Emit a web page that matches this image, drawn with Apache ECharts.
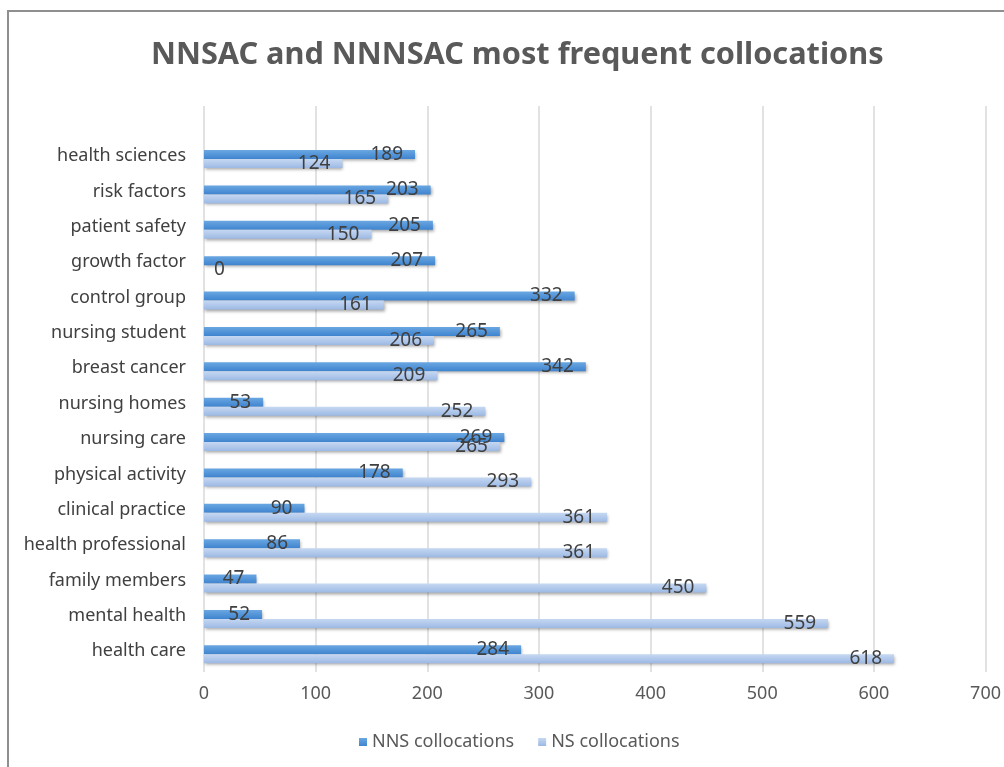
<!DOCTYPE html>
<html>
<head>
<meta charset="utf-8">
<script src="https://cdn.jsdelivr.net/npm/echarts@6/dist/echarts.min.js"></script>
<style>
html,body{margin:0;padding:0;background:#fff;}
#frame{position:absolute;left:7px;top:10px;width:1100px;height:900px;border-top:2px solid #8f8f8f;border-left:2px solid #8f8f8f;}
#chart{position:absolute;left:0;top:0;width:1004px;height:767px;}
</style>
</head>
<body>
<div id="frame"></div>
<div id="chart"></div>
<script>
// bottom-to-top order (ECharts category axis starts at the bottom)
const categories = ['health care','mental health','family members','health professional','clinical practice','physical activity','nursing care','nursing homes','breast cancer','nursing student','control group','growth factor','patient safety','risk factors','health sciences'];
const nnsValues = [284,52,47,86,90,178,269,53,342,265,332,207,205,203,189];
const nsValues  = [618,559,450,361,361,293,265,252,209,206,161,0,150,165,124];
const seriesNames = ['NNS collocations','NS collocations'];
const xTicks = [0,100,200,300,400,500,600,700];

const chart = echarts.init(document.getElementById('chart'), null, {renderer:'canvas'});
const font = '"Noto Sans", "Open Sans", sans-serif';
const labelBase = {show:true, position:'insideRight', distance:12, color:'#404040', fontSize:19, fontFamily:font};
function toData(arr){
  return arr.map(v => v === 0 ? {value:v, label:{position:'right', distance:10}} : v);
}
const shadow = {shadowColor:'rgba(0,0,0,0.35)', shadowBlur:3, shadowOffsetX:1, shadowOffsetY:2};
chart.setOption({
  animation:false,
  title:{text:'NNSAC and NNNSAC most frequent collocations', left:146, top:35,
    textStyle:{fontFamily:font, fontSize:30.7, fontWeight:'bold', color:'#595959'}},
  legend:{bottom:11, left:354, itemWidth:8, itemHeight:8, itemGap:24, icon:'rect',
    textStyle:{fontFamily:font, fontSize:18, color:'#595959'}},
  grid:{left:204, right:16, top:106, bottom:95, containLabel:false},
  xAxis:{type:'value', min:xTicks[0], max:xTicks[xTicks.length-1], interval:100,
    axisLine:{show:false}, axisTick:{show:false},
    splitLine:{lineStyle:{color:'#d9d9d9', width:1.5}},
    axisLabel:{margin:13, color:'#595959', fontSize:18, fontFamily:font}},
  yAxis:{type:'category', data:categories, max:categories.length,
    axisLine:{show:false}, axisTick:{show:false},
    axisLabel:{margin:18, color:'#404040', fontSize:18, fontFamily:font, verticalAlign:'bottom', lineHeight:6,
      formatter: v => (v === undefined || v === null) ? '' : v}},
  series:[
    {name:seriesNames[0], type:'bar', data:toData(nnsValues), barWidth:9, barGap:'0%',
      itemStyle:Object.assign({color:new echarts.graphic.LinearGradient(0,0,0,1,[{offset:0,color:'#6aa7e2'},{offset:1,color:'#3f84cf'}])}, shadow),
      label:labelBase},
    {name:seriesNames[1], type:'bar', data:toData(nsValues), barWidth:9, barGap:'0%',
      itemStyle:Object.assign({color:new echarts.graphic.LinearGradient(0,0,0,1,[{offset:0,color:'#c6d8f2'},{offset:1,color:'#9cb9e4'}])}, shadow),
      label:labelBase}
  ],
  color:['#4a8fd8','#a9c4ea']
});
</script>
</body>
</html>
